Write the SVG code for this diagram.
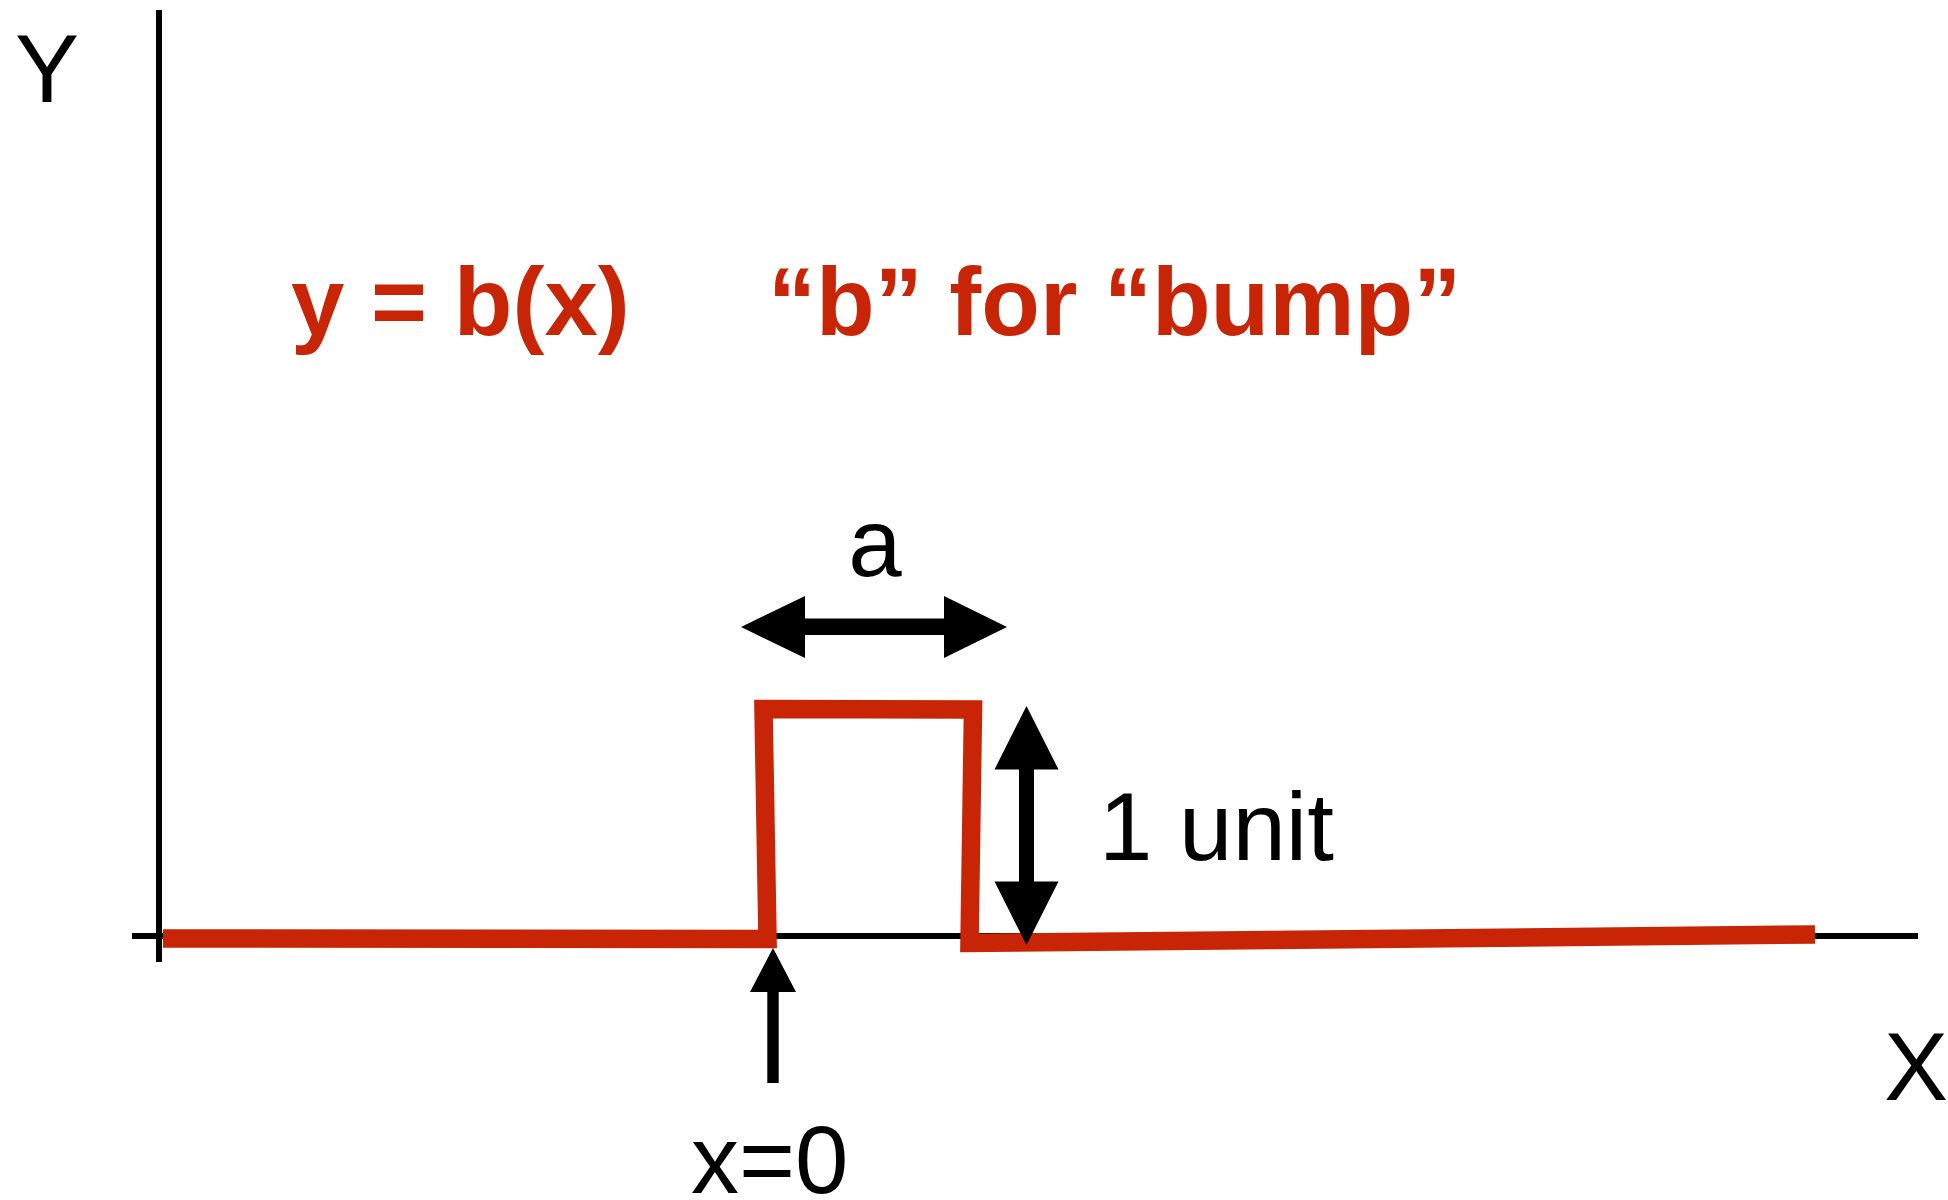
<svg xmlns="http://www.w3.org/2000/svg" width="1948" height="1200" viewBox="0 0 1948 1200">
  <style>
    .axis { stroke: #000; stroke-width: 6; fill: none; }
    .bump { stroke: #C82506; stroke-width: 18.5; fill: none; stroke-linejoin: miter; stroke-linecap: butt; }
    .arrow { fill: #000; stroke: none; }
    .lbl { font-family: "Liberation Sans", Arial, Helvetica, sans-serif; font-size: 96px; fill: #000; }
    .title { font-family: "Liberation Sans", Arial, Helvetica, sans-serif; font-weight: bold; font-size: 96px; fill: #C82506; }
  </style>
  <rect width="1948" height="1200" fill="#fff"/>
  <g id="axes">
    <line class="axis" x1="159" y1="10" x2="159" y2="962"/>
    <line class="axis" x1="132" y1="936" x2="1918" y2="936"/>
  </g>
  <g id="bump-curve">
    <polyline class="bump" points="163,938.5 767.5,939 763.5,709 973,709.5 969.5,943 1815,934.5"/>
  </g>
  <g id="connectors">
    <polygon id="width-arrow" class="arrow" points="741,627 805,596 805,618.5 944,618.5 944,596 1007,627 944,658 944,635 805,635 805,658"/>
    <polygon id="height-arrow" class="arrow" points="1026.5,706 1058.5,769.5 1034,769.5 1034,881.5 1058.5,881.5 1026.5,945 994.5,881.5 1019,881.5 1019,769.5 994.5,769.5"/>
    <polygon id="origin-arrow" class="arrow" points="773,948 796,992 778.7,992 778.7,1083 767.3,1083 767.3,992 750,992"/>
  </g>
  <g id="labels">
    <text class="lbl" x="47" y="102" text-anchor="middle">Y</text>
    <text class="lbl" x="1916" y="1100" text-anchor="middle">X</text>
    <text class="lbl" x="875" y="576" text-anchor="middle">a</text>
    <text class="lbl" x="1099" y="860">1 unit</text>
    <text class="lbl" x="691" y="1193">x=0</text>
  </g>
  <g id="title">
    <text class="title" x="291" y="335">y = b(x)</text>
    <text class="title" x="768" y="335">“b” for “bump”</text>
  </g>
</svg>
